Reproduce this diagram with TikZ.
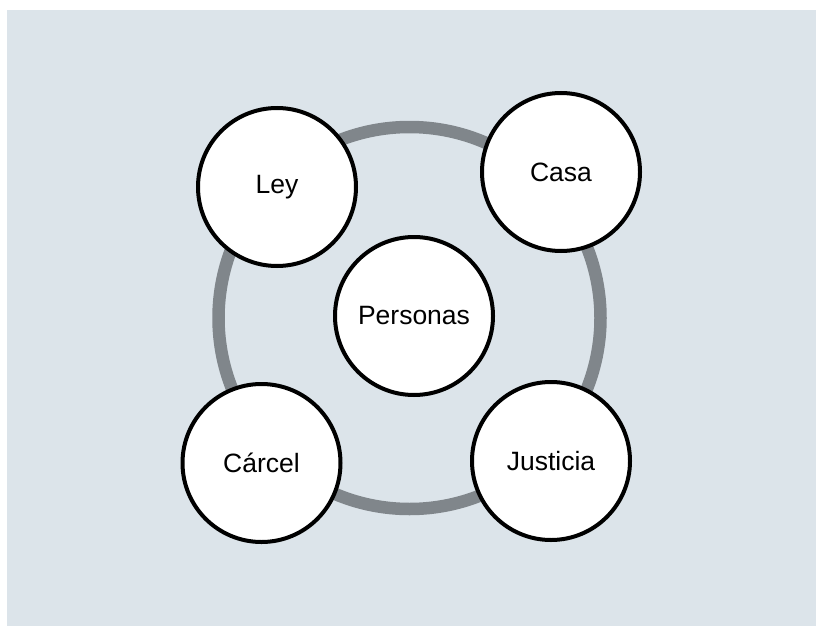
\documentclass[tikz,border=0pt]{standalone}
\usepackage{fontspec}
\setmainfont{Liberation Sans}
\definecolor{bgc}{HTML}{DCE4EA}
\definecolor{ringc}{HTML}{80868B}
\begin{document}
\begin{tikzpicture}[x=1pt,y=-1pt,
  bubble/.style={circle,draw=black,line width=4pt,fill=white,minimum size=158pt,inner sep=0pt,font=\fontsize{26.5}{30}\selectfont}]
\useasboundingbox (0,0) rectangle (816,626);
\fill[white] (0,0) rectangle (816,626);
\fill[bgc] (7,10) rectangle (816,626);
\coordinate (ctr) at (409.5,318);
\draw[ringc,line width=12.5pt] (ctr) circle[radius=191pt];
\node[bubble] (ley) at (277,187) {Ley};
\node[bubble] (casa) at (561,172) {Casa};
\node[bubble] (personas) at (414,316) {Personas};
\node[bubble] (carcel) at (261.5,463) {Cárcel};
\node[bubble] (justicia) at (551,461) {Justicia};
\end{tikzpicture}
\end{document}
